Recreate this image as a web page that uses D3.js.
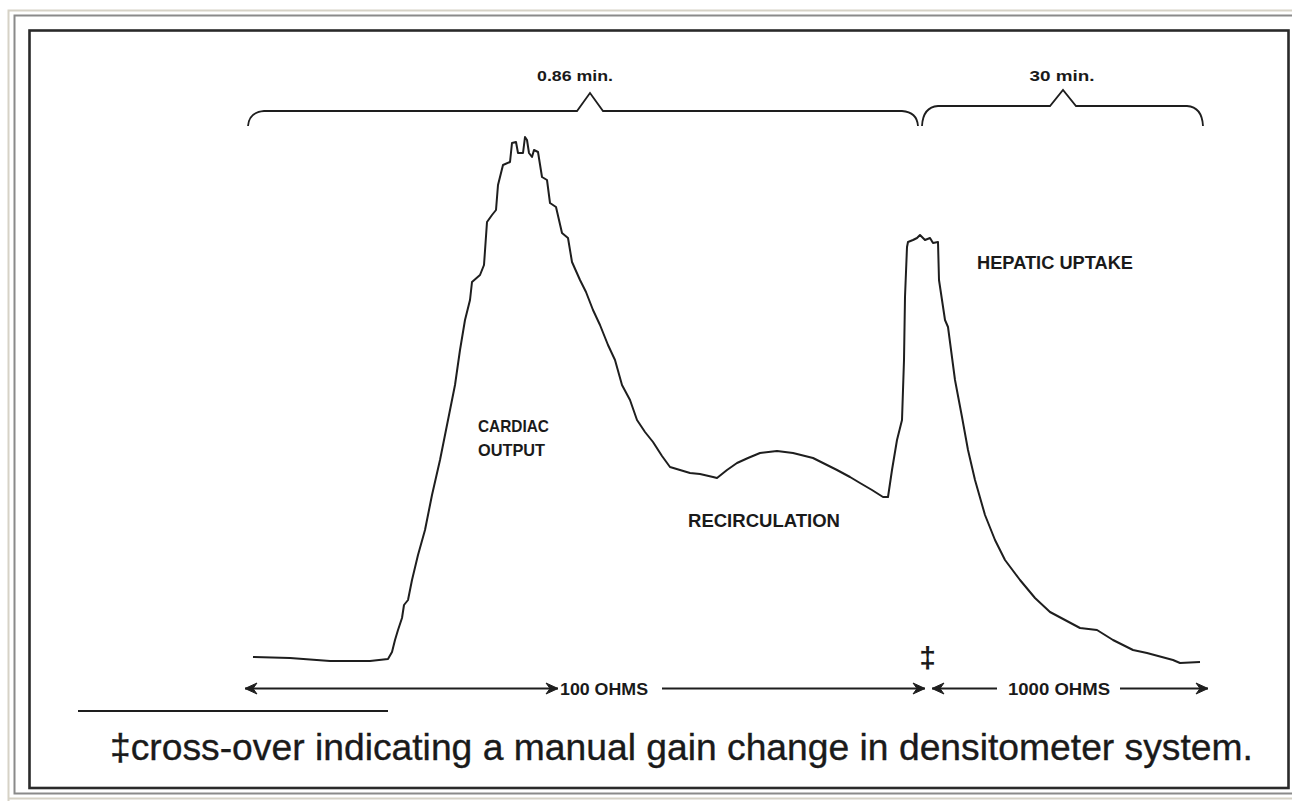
<!DOCTYPE html>
<html>
<head>
<meta charset="utf-8">
<script src="https://cdn.jsdelivr.net/npm/d3@7/dist/d3.min.js"></script>
<style>
  html, body { margin: 0; padding: 0; background: #fff; }
  svg { display: block; }
  text { font-family: "Liberation Sans", Arial, Helvetica, sans-serif; fill: #1a1a1a; }
</style>
</head>
<body>
<svg id="chart" width="1292" height="801"></svg>
<script>
// ---- Data (x: chart-paper time units, y: densitometer signal units) ----
const traceX = [0,3.7,7.7,11.7,13.5,13.9,14.2,14.5,14.9,15.1,15.5,15.9,16.5,17.2,17.9,18.7,19.4,20.2,20.7,21.2,21.7,21.9,22.7,23.1,23.4,23.9,24.3,24.5,25.0,25.7,25.9,26.3,26.5,27.0,27.2,27.4,27.6,27.9,28.1,28.5,28.9,29.4,29.7,30.3,30.9,31.5,31.9,32.7,33.3,34.0,34.7,35.5,36.2,36.9,37.7,38.4,39.2,40.0,40.9,41.7,42.7,43.7,44.7,46.0,46.4,47.4,48.4,49.5,50.7,52.4,54.0,56.0,57.2,58.4,59.7,60.7,61.9,63.0,63.5,63.9,64.4,64.9,65.1,65.2,65.4,65.5,66.0,66.4,66.7,67.2,67.7,68.0,68.5,68.6,69.2,69.5,70.2,70.9,71.5,72.2,73.2,74.2,75.2,76.7,78.2,79.7,81.2,82.7,84.4,86.0,88.0,89.4,92.0,92.7,94.7];
const traceY = [1.2,1.0,0.4,0.4,0.8,2.2,4.6,6.6,9.0,11.6,12.6,16.6,21.6,26.6,33.6,40.6,47.6,55.6,62.6,68.6,72.6,76.2,77.6,79.6,88.2,89.6,90.6,95.6,99.6,100.2,104.0,104.2,102.0,102.0,105.2,104.6,102.0,101.2,102.6,102.2,97.2,96.6,92.0,91.2,86.0,85.0,80.2,76.6,74.2,70.6,67.6,63.6,60.6,55.6,52.6,48.6,46.2,44.2,41.4,39.2,38.6,38.0,37.8,37.2,37.0,38.6,40.0,41.0,42.0,42.4,42.0,41.0,39.8,38.6,37.2,36.0,34.6,33.2,33.2,38.6,44.6,48.6,60.6,73.2,83.2,84.2,84.6,85.0,85.6,84.6,85.0,84.0,84.2,76.6,68.6,67.2,56.6,49.2,42.6,36.6,29.6,24.6,20.6,16.6,13.0,10.2,8.6,7.0,6.6,4.6,2.6,2.0,0.6,0.0,0.2];

const braceLabels = ["0.86 min.", "30 min."];
const braceFrom   = [-0.5, 66.9];
const braceTo     = [66.5, 95.0];
const braceMid    = [33.7, 81.0];

const gainLabels  = ["100 OHMS", "1000 OHMS"];
const gainCross   = 67.55;   // x of manual gain change (cross-over)

const regionLabels = ["CARDIAC", "OUTPUT", "RECIRCULATION", "HEPATIC UPTAKE"];
const footnote = "\u2021cross-over indicating a manual gain change in densitometer system.";

// ---- Scales ----
const x = d3.scaleLinear().domain([0, 100]).range([253, 1253]);
const y = d3.scaleLinear().domain([0, 100]).range([663, 163]);

const svg = d3.select("#chart");
const ink = "#1e1e1e";

// Outer page frames
svg.append("path").attr("d", "M1292,10.5 H8.5 V801").attr("fill", "none")
   .attr("stroke", "#d6d2c6").attr("stroke-width", 2);
svg.append("path").attr("d", "M1292,15.5 H14.5 V793.5 H1292").attr("fill", "none")
   .attr("stroke", "#8a8a8a").attr("stroke-width", 2);
svg.append("line").attr("x1", 8).attr("x2", 1292).attr("y1", 798.5).attr("y2", 798.5)
   .attr("stroke", "#d6d2c6").attr("stroke-width", 2);
// Chart frame
svg.append("rect").attr("x", 29.5).attr("y", 30.5).attr("width", 1259).attr("height", 757.5)
   .attr("fill", "#fff").attr("stroke", "#2a2a2a").attr("stroke-width", 2.6);

// ---- Trace ----
const pts = traceX.map((d, i) => [d, traceY[i]]);
const line = d3.line().x(d => x(d[0])).y(d => y(d[1])).curve(d3.curveLinear);
svg.append("path").datum(pts).attr("d", line)
   .attr("fill", "none").attr("stroke", ink).attr("stroke-width", 2)
   .attr("stroke-linejoin", "round");

// ---- Helper: bold label fitted to width ----
function label(txt, x0, yb, w, size, weight, anchor) {
  const t = svg.append("text").attr("x", x0).attr("y", yb)
     .attr("font-size", size).attr("font-weight", weight || "bold")
     .attr("text-anchor", anchor || "start").text(txt);
  if (w) t.attr("textLength", w).attr("lengthAdjust", "spacingAndGlyphs");
  return t;
}

// ---- Braces ----
const braceY = [111, 106];
const braceTop = [93, 90];
braceLabels.forEach((lab, i) => {
  const a = x(braceFrom[i]), b = x(braceTo[i]), m = x(braceMid[i]);
  const by = braceY[i], bt = braceTop[i];
  const p = d3.path();
  p.moveTo(a, 126);
  p.quadraticCurveTo(a + 1, by + 1, a + 16, by);
  p.lineTo(m - 13, by);
  p.lineTo(m, bt);
  p.lineTo(m + 13, by);
  p.lineTo(b - 16, by);
  p.quadraticCurveTo(b - 1, by + 1, b, 126);
  svg.append("path").attr("d", p.toString()).attr("fill", "none")
     .attr("stroke", ink).attr("stroke-width", 1.8);
});
label(braceLabels[0], 575, 81, 76, 15, "bold", "middle");
label(braceLabels[1], 1062, 81, 65, 15, "bold", "middle");

// ---- Region labels ----
label(regionLabels[0], 478, 432, 71, 17);
label(regionLabels[1], 478, 456, 67, 17);
label(regionLabels[2], 688, 527, 152, 17.5);
label(regionLabels[3], 977, 269, 156, 17.5);

// ---- Gain arrows ----
const arrowY = 688.5;
function head(px, dir) { // dir = +1 points right, -1 points left
  const L = 12, H = 5.5, N = 8;
  const d = `M${px},${arrowY} L${px - dir*L},${arrowY - H} L${px - dir*N},${arrowY} L${px - dir*L},${arrowY + H} Z`;
  svg.append("path").attr("d", d).attr("fill", ink).attr("stroke", ink).attr("stroke-width", 1);
}
function seg(a, b) {
  svg.append("line").attr("x1", x(a)).attr("x2", x(b)).attr("y1", arrowY).attr("y2", arrowY)
     .attr("stroke", ink).attr("stroke-width", 2);
}
seg(-0.8, 30.5); head(x(-0.8), -1); head(x(30.5), 1);
seg(40.9, gainCross - 0.35); head(x(gainCross - 0.35), 1);
seg(gainCross + 0.35, 74.4); head(x(gainCross + 0.35), -1);
seg(86.7, 95.5); head(x(95.5), 1);
label(gainLabels[0], 560, 695, 88, 17);
label(gainLabels[1], 1008, 695, 102, 17);

// Cross-over mark
svg.append("text").attr("x", x(gainCross) - 1).attr("y", 668).attr("text-anchor", "middle")
   .attr("font-size", 30).attr("font-weight", "bold").text("\u2021");

// ---- Footnote ----
svg.append("line").attr("x1", 78).attr("x2", 388).attr("y1", 711).attr("y2", 711)
   .attr("stroke", ink).attr("stroke-width", 2);
const fn = svg.append("text").attr("x", 110).attr("y", 760).attr("font-size", 26)
   .attr("stroke", "#1a1a1a").attr("stroke-width", 0.35).text(footnote);
const natural = fn.node().getComputedTextLength();
fn.attr("font-size", 26 * 1143 / natural);
</script>
</body>
</html>
